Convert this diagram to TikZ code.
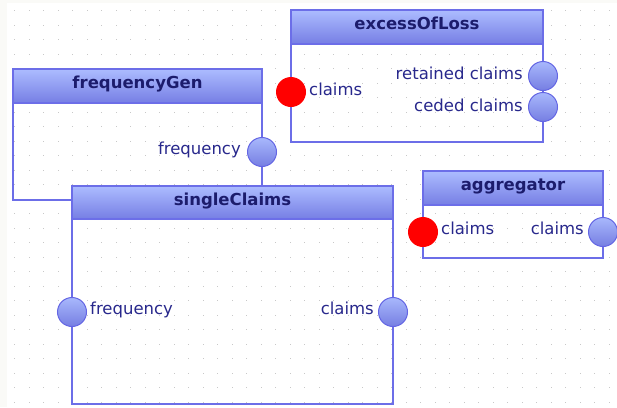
\documentclass[tikz,border=0pt]{standalone}
\usepackage{fontspec}
\setmainfont{DejaVu Sans}
\usetikzlibrary{shadings}
\definecolor{bgstrip}{RGB}{250,250,247}
\definecolor{dotcol}{RGB}{200,200,200}
\definecolor{bordercol}{RGB}{108,110,232}
\definecolor{hdtop}{RGB}{172,188,255}
\definecolor{hdbot}{RGB}{118,126,228}
\definecolor{pttop}{RGB}{168,184,252}
\definecolor{ptbot}{RGB}{118,126,226}
\definecolor{ptline}{RGB}{100,102,228}
\definecolor{lblcol}{RGB}{40,40,140}
\definecolor{ttlcol}{RGB}{28,28,108}
\tikzset{
  box/.style={draw=bordercol, line width=1.5pt, inner sep=0pt, outer sep=0pt, anchor=north west},
  header/.style={draw=bordercol, line width=1.5pt, inner sep=0pt, outer sep=0pt, anchor=north west, top color=hdtop, bottom color=hdbot},
  title/.style={font=\fontsize{16.5}{18}\selectfont\bfseries, text=ttlcol, anchor=base, inner sep=0pt},
  lbl/.style={font=\fontsize{16.5}{18}\selectfont, text=lblcol, inner sep=0pt},
  outport/.style={circle, draw=ptline, line width=1pt, minimum size=29pt, inner sep=0pt, top color=pttop, bottom color=ptbot},
  inport/.style={circle, fill=red, minimum size=30pt, inner sep=0pt}
}
\begin{document}
\begin{tikzpicture}[x=1pt,y=-1pt]
\useasboundingbox (0,0) rectangle (617,407);
\fill[bgstrip] (0,0) rectangle (617,407);
\fill[white] (7,3) rectangle (617,407);
\foreach \i in {0,...,41}{
  \foreach \j in {0,...,27}{
    \fill[dotcol] (14+14.5*\i,10+14.5*\j) rectangle ++(1.4,1.4);
  }
}
% frequencyGen
\node[box, minimum width=249pt, minimum height=131pt] (fg) at (13,69) {};
\node[header, minimum width=249pt, minimum height=34pt] (fgh) at (13,69) {};
\node[title] (fgt) at (137.5,88) {frequencyGen};
% singleClaims
\node[box, minimum width=321pt, minimum height=218pt] (sc) at (72,186) {};
\node[header, minimum width=321pt, minimum height=33pt] (sch) at (72,186) {};
\node[title] (sct) at (232.5,205) {singleClaims};
% excessOfLoss
\node[box, minimum width=252pt, minimum height=132pt] (eol) at (291,10) {};
\node[header, minimum width=252pt, minimum height=34pt] (eolh) at (291,10) {};
\node[title] (eolt) at (417,29.5) {excessOfLoss};
% aggregator
\node[box, minimum width=180pt, minimum height=87pt] (agg) at (423,171) {};
\node[header, minimum width=180pt, minimum height=34pt] (aggh) at (423,171) {};
\node[title] (aggt) at (513,190.5) {aggregator};
% ports
\node[outport] (fgfreq) at (262,152) {};
\node[lbl, anchor=base east] (fgfreql) at (241,154.5) {frequency};
\node[outport] (scfreq) at (72,312) {};
\node[lbl, anchor=base west] (scfreql) at (90,314.5) {frequency};
\node[outport] (scclaims) at (393,312) {};
\node[lbl, anchor=base east] (scclaimsl) at (374,314.5) {claims};
\node[inport] (eolclaims) at (291,92) {};
\node[lbl, anchor=base west] (eolclaimsl) at (309,95) {claims};
\node[outport] (eolret) at (543,76) {};
\node[lbl, anchor=base east] (eolretl) at (523,79) {retained claims};
\node[outport] (eolced) at (543,107) {};
\node[lbl, anchor=base east] (eolcedl) at (523,111) {ceded claims};
\node[inport] (aggin) at (423,232) {};
\node[lbl, anchor=base west] (agginl) at (441,234.5) {claims};
\node[outport] (aggout) at (603,232) {};
\node[lbl, anchor=base east] (aggoutl) at (584,234.5) {claims};
\end{tikzpicture}
\end{document}
